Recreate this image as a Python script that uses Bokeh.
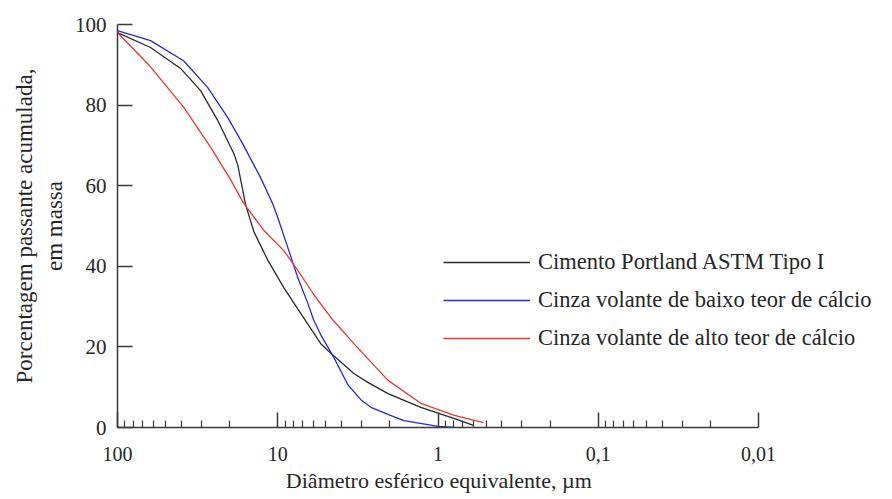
from bokeh.plotting import figure
from bokeh.models import (Range1d, FixedTicker, CustomJSTickFormatter,
                          Legend, LegendItem, Title)
from bokeh.embed import file_html
from bokeh.resources import INLINE

# Equivalent spherical diameter (µm) and cumulative passing (% by mass)
cimento_d = [100, 62.2, 40.4, 30.3, 23.7, 18.8, 17.8, 15.85, 14.1, 11.5,
             9.17, 7.19, 5.39, 4.87, 3.35, 2.74, 2.05, 1.28, 0.79, 0.60]
cimento_p = [98.0, 94.3, 89.1, 83.6, 76.2, 68.0, 65.3, 55.2, 48.6, 41.4,
             34.7, 28.3, 20.8, 19.1, 13.4, 11.2, 8.4, 5.0, 2.2, 0.5]

baixo_d = [100, 62.2, 38.7, 27.4, 20.5, 16.6, 12.8, 10.75, 10.0, 8.66,
           7.5, 6.49, 5.96, 5.39, 4.47, 3.65, 3.03, 2.62, 1.98, 1.63, 1.0, 0.79]
baixo_p = [98.5, 96.0, 91.0, 84.4, 76.9, 70.5, 62.0, 55.5, 52.1, 44.7,
           37.2, 30.8, 26.6, 23.0, 17.4, 10.6, 6.9, 5.0, 3.0, 1.7, 0.3, 0.0]

alto_d = [100, 62.2, 38.7, 26.2, 19.7, 16.3, 12.2, 9.17, 7.5, 5.96,
          4.67, 3.35, 2.05, 1.28, 0.79, 0.52]
alto_p = [98.0, 89.5, 79.5, 69.5, 61.5, 55.6, 48.9, 43.9, 39.0, 33.0,
          27.3, 20.8, 11.7, 6.0, 3.0, 1.2]

series_names = ["Cimento Portland ASTM Tipo I",
                "Cinza volante de baixo teor de cálcio",
                "Cinza volante de alto teor de cálcio"]
x_title = "Diâmetro esférico equivalente, µm"
y_title = "Porcentagem passante acumulada,\nem massa"

x_major = [100, 10, 1, 0.1, 0.01]
x_minor = [m * 10.0 ** k for k in (1, 0, -1, -2) for m in range(2, 10)]
y_major = [0, 20, 40, 60, 80, 100]

FONT = "Liberation Serif"
INK = "#262626"
AXIS = "#3a3a3a"

# The frame runs to the right edge so the legend has room; the axis itself
# stops at 0.01 through its bounds.
LEFT, TOP, BOTTOM = 117, 24, 72
WIDTH, HEIGHT = 892, 499
AXIS_END = 758
DECADE_PX = (AXIS_END - LEFT) / 4.0
x_far = 0.01 / 10 ** ((WIDTH - AXIS_END) / DECADE_PX)

p = figure(width=WIDTH, height=HEIGHT, x_axis_type="log",
           x_range=Range1d(100, x_far), y_range=Range1d(0, 100),
           output_backend="svg", toolbar_location=None,
           min_border_left=LEFT, min_border_right=0,
           min_border_top=TOP, min_border_bottom=BOTTOM)
p.outline_line_color = None
p.grid.grid_line_color = None
p.background_fill_color = "white"
p.border_fill_color = "white"

r_cim = p.line(cimento_d, cimento_p, line_color="#2a2a2a", line_width=1.3)
r_bai = p.line(baixo_d, baixo_p, line_color="#2828e0", line_width=1.3)
r_alt = p.line(alto_d, alto_p, line_color="#ee3535", line_width=1.3)

# x axis: reversed log scale with decimal comma labels
xa = p.xaxis[0]
xa.bounds = (0.01, 100)
xa.ticker = FixedTicker(ticks=x_major, minor_ticks=x_minor)
xa.formatter = CustomJSTickFormatter(code="return tick.toString().replace('.', ',');")
xa.major_tick_in = 15
xa.major_tick_out = 0
xa.minor_tick_in = 7
xa.minor_tick_out = 0
xa.major_label_standoff = 19

ya = p.yaxis[0]
ya.ticker = FixedTicker(ticks=y_major, minor_ticks=[])
ya.axis_label = y_title
ya.major_tick_in = 15
ya.major_tick_out = 0
ya.minor_tick_in = 0
ya.minor_tick_out = 0
ya.major_label_standoff = 11
ya.axis_label_standoff = 5
ya.axis_label_text_font_size = "23px"

for ax in (xa, ya):
    ax.axis_line_color = AXIS
    ax.axis_line_width = 1.5
    ax.major_tick_line_color = AXIS
    ax.major_tick_line_width = 1.5
    ax.minor_tick_line_color = AXIS
    ax.minor_tick_line_width = 1.2
    ax.major_label_text_font = FONT
    ax.major_label_text_color = INK
    ax.axis_label_text_font = FONT
    ax.axis_label_text_font_style = "normal"
    ax.axis_label_text_color = INK
xa.major_label_text_font_size = "20px"
ya.major_label_text_font_size = "21px"

# x-axis title, centred under the drawn axis (100 .. 0.01) rather than the frame
title_size = 22
title_width = 13.83 * title_size
below_title = Title(text=x_title, align="left",
                    offset=(LEFT + AXIS_END) / 2 - LEFT - title_width / 2,
                    standoff=4, text_font=FONT,
                    text_font_size=f"{title_size}px", text_font_style="normal",
                    text_color=INK)
p.add_layout(below_title, "below")

legend = Legend(items=[LegendItem(label=series_names[0], renderers=[r_cim]),
                       LegendItem(label=series_names[1], renderers=[r_bai]),
                       LegendItem(label=series_names[2], renderers=[r_alt])],
                location=(326, 76), orientation="vertical",
                glyph_width=87, glyph_height=24, label_height=24,
                label_standoff=8, spacing=12, padding=0, margin=0,
                border_line_color=None, background_fill_alpha=0,
                label_text_font=FONT, label_text_font_size="22.5px",
                label_text_color=INK)
p.add_layout(legend)

open("out.html", "w").write(file_html(p, INLINE))
